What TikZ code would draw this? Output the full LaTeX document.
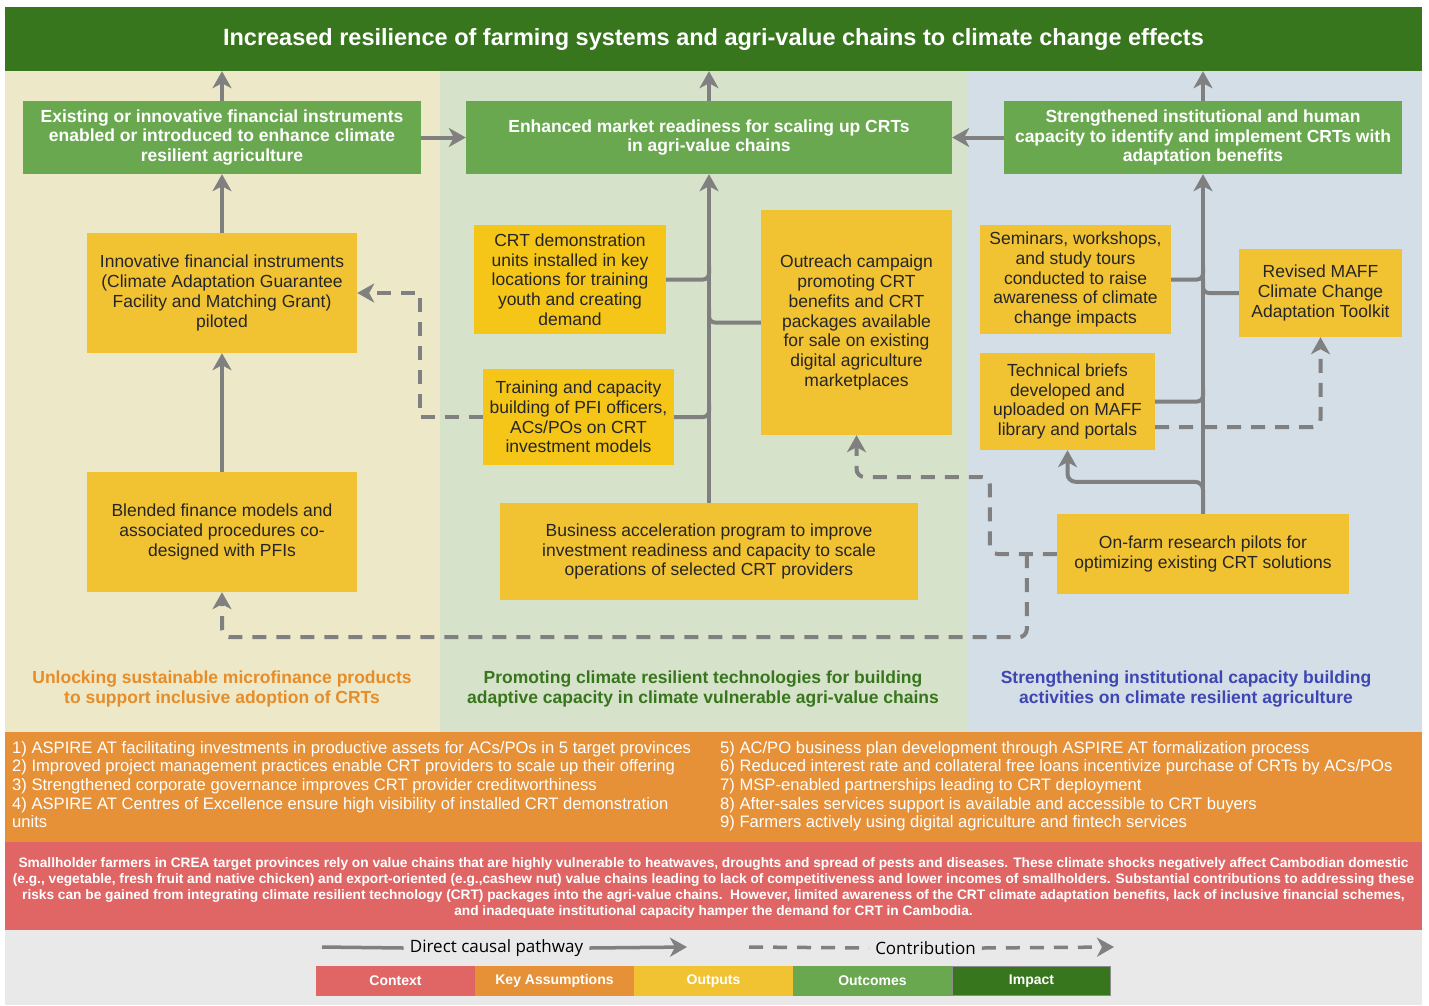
\documentclass[tikz,border=0pt]{standalone}
\usepackage{fontspec}
\setmainfont{Liberation Sans}
\newfontfamily\legendfont{Open Sans}
\usepackage{xcolor}
\usetikzlibrary{arrows.meta,calc}

\definecolor{impactgreen}{RGB}{56,118,29}
\definecolor{outcomegreen}{RGB}{106,168,79}
\definecolor{outputyellow}{RGB}{241,194,50}
\definecolor{outputgold}{RGB}{245,197,24}
\definecolor{assumporange}{RGB}{230,145,56}
\definecolor{contextred}{RGB}{224,102,102}
\definecolor{legendgray}{RGB}{233,233,233}
\definecolor{leftbg}{RGB}{237,233,200}
\definecolor{midbg}{RGB}{214,226,202}
\definecolor{rightbg}{RGB}{212,222,230}
\definecolor{linegray}{RGB}{128,128,128}
\definecolor{pillarorange}{RGB}{230,140,40}
\definecolor{pillarblue}{RGB}{62,70,180}

\begin{document}
\begin{tikzpicture}[x=1pt,y=-1pt,
  every node/.style={align=center,inner sep=0pt},
  outcome/.style={fill=outcomegreen,text=white,font=\bfseries\fontsize{17.5}{19.5}\selectfont},
  output/.style={fill=outputyellow,text=black!85,font=\fontsize{17.5}{19.7}\selectfont},
  pillar/.style={font=\bfseries\fontsize{17.5}{20}\selectfont},
  keybox/.style={minimum width=159,minimum height=30,text=white,font=\bfseries\fontsize{14}{16}\selectfont},
  link/.style={draw=linegray,line width=4pt},
  dashlink/.style={link,dash pattern=on 14pt off 10pt},
  causal/.style={link,-{Stealth[length=17pt,width=19pt,inset=5pt]}},
  contrib/.style={causal,dash pattern=on 14pt off 10pt}]
  \useasboundingbox (0,0) rectangle (1429,1005);
  \fill[white] (0,0) rectangle (1429,1005);
  % column backgrounds and bands
  \fill[leftbg] (5,71) rectangle (440,732);
  \fill[midbg] (440,71) rectangle (968,732);
  \fill[rightbg] (968,71) rectangle (1422,732);
  \fill[assumporange] (5,732) rectangle (1422,842);
  \fill[contextred] (5,842) rectangle (1422,930);
  \fill[legendgray] (5,930) rectangle (1422,1005);

  % impact
  \node[fill=impactgreen,text=white,minimum width=1417,minimum height=64,
        font=\bfseries\fontsize{23.5}{28}\selectfont] (impact) at (713.5,39)
    {Increased resilience of farming systems and agri-value chains to climate change effects};

  % outcomes
  \node[outcome,minimum width=398,minimum height=73] (outleft) at (222,137.5)
    {Existing or innovative financial instruments\\enabled or introduced to enhance climate\\resilient agriculture};
  \node[outcome,minimum width=486,minimum height=73] (outmid) at (709,137.5)
    {Enhanced market readiness for scaling up CRTs\\in agri-value chains};
  \node[outcome,minimum width=398,minimum height=73] (outright) at (1203,137.5)
    {Strengthened institutional and human\\capacity to identify and implement CRTs with\\adaptation benefits};

  % outputs, left pillar
  \node[output,minimum width=270,minimum height=120] (innov) at (222,293)
    {Innovative financial instruments\\(Climate Adaptation Guarantee\\Facility and Matching Grant)\\piloted};
  \node[output,minimum width=270,minimum height=120] (blended) at (222,532)
    {Blended finance models and\\associated procedures co-\\designed with PFIs};

  % outputs, middle pillar
  \node[output,fill=outputgold,minimum width=192,minimum height=109] (crtdemo) at (570,279.5)
    {CRT demonstration\\units installed in key\\locations for training\\youth and creating\\demand};
  \node[output,fill=outputgold,minimum width=191,minimum height=96] (training) at (578.5,417)
    {Training and capacity\\building of PFI officers,\\ACs/POs on CRT\\investment models};
  \node[output,minimum width=191,minimum height=225] (outreach) at (856.5,322.5)
    {Outreach campaign\\promoting CRT\\benefits and CRT\\packages available\\for sale on existing\\digital agriculture\\marketplaces};
  \node[output,minimum width=418,minimum height=97] (business) at (709,551.5)
    {Business acceleration program to improve\\investment readiness and capacity to scale\\operations of selected CRT providers};

  % outputs, right pillar
  \node[output,minimum width=191,minimum height=109] (seminars) at (1075.5,279.5)
    {Seminars, workshops,\\and study tours\\conducted to raise\\awareness of climate\\change impacts};
  \node[output,minimum width=175,minimum height=97] (techbrief) at (1067.5,401.5)
    {Technical briefs\\developed and\\uploaded on MAFF\\library and portals};
  \node[output,minimum width=163,minimum height=88] (maff) at (1320.5,293)
    {Revised MAFF\\Climate Change\\Adaptation Toolkit};
  \node[output,minimum width=292,minimum height=80] (onfarm) at (1203,554)
    {On-farm research pilots for\\optimizing existing CRT solutions};

  % pillar titles
  \node[pillar,text=pillarorange] (pillarleft) at (222,689)
    {Unlocking sustainable microfinance products\\to support inclusive adoption of CRTs};
  \node[pillar,text=impactgreen] (pillarmid) at (703,689)
    {Promoting climate resilient technologies for building\\adaptive capacity in climate vulnerable agri-value chains};
  \node[pillar,text=pillarblue] (pillarright) at (1186,689)
    {Strengthening institutional capacity building\\activities on climate resilient agriculture};

  % direct causal pathways
  \draw[causal] (outleft.north) -- (outleft.north |- impact.south);
  \draw[causal] (outmid.north) -- (outmid.north |- impact.south);
  \draw[causal] (outright.north) -- (outright.north |- impact.south);
  \draw[causal] (outleft.east) -- (outmid.west);
  \draw[causal] (outright.west) -- (outmid.east);
  \draw[causal] (innov.north) -- (outleft.south);
  \draw[causal] (blended.north) -- (innov.south);
  \draw[causal] (business.north) -- (outmid.south);
  \draw[link,rounded corners=6] (crtdemo.east) -| ([yshift=14pt]business.north |- crtdemo.east);
  \draw[link,rounded corners=6] (training.east) -| ([yshift=14pt]business.north |- training.east);
  \draw[link,rounded corners=6] (outreach.west) -| ([yshift=14pt]business.north |- outreach.west);
  \draw[causal] (onfarm.north) -- (outright.south);
  \draw[link,rounded corners=6] (seminars.east) -| ([yshift=14pt]onfarm.north |- seminars.east);
  \draw[link,rounded corners=6] (techbrief.east) -| ([yshift=14pt]onfarm.north |- techbrief.east);
  \draw[link,rounded corners=6] (maff.west) -| ([yshift=14pt]onfarm.north |- maff.west);
  \draw[causal,rounded corners=8] (onfarm.north) -- ++(0,-32) -| (techbrief.south);

  % contributions
  \draw[contrib] (training.west) -| ($(innov.east)+(63,0)$) -- (innov.east);
  \draw[contrib,rounded corners=8] ([yshift=-25.5pt]techbrief.east) -| (maff.south);
  \draw[contrib,rounded corners=8] (onfarm.west) -| ($(onfarm.west)+(-67,-77)$) -| (outreach.south);
  \draw[contrib,rounded corners=8] ([xshift=-30pt]onfarm.west) |- ($(blended.south)+(0,45)$) -- (blended.south);

  % key assumptions
  \node[anchor=north west,align=left,text=white,font=\fontsize{16.6}{18.6}\selectfont] (assumpleft) at (12,741)
    {1) ASPIRE AT facilitating investments in productive assets for ACs/POs in 5 target provinces\\
     2) Improved project management practices enable CRT providers to scale up their offering\\
     3) Strengthened corporate governance improves CRT provider creditworthiness\\
     4) ASPIRE AT Centres of Excellence ensure high visibility of installed CRT demonstration\\
     units};
  \node[anchor=north west,align=left,text=white,font=\fontsize{16.6}{18.6}\selectfont] (assumpright) at (720,741)
    {5) AC/PO business plan development through ASPIRE AT formalization process\\
     6) Reduced interest rate and collateral free loans incentivize purchase of CRTs by ACs/POs\\
     7) MSP-enabled partnerships leading to CRT deployment\\
     8) After-sales services support is available and accessible to CRT buyers\\
     9) Farmers actively using digital agriculture and fintech services};

  % context
  \node[text=white,font=\bfseries\fontsize{13.7}{15.8}\selectfont] (context) at (713.5,888)
    {Smallholder farmers in CREA target provinces rely on value chains that are highly vulnerable to heatwaves, droughts and spread of pests and diseases. These climate shocks negatively affect Cambodian domestic\\
     (e.g., vegetable, fresh fruit and native chicken) and export-oriented (e.g.,cashew nut) value chains leading to lack of competitiveness and lower incomes of smallholders. Substantial contributions to addressing these\\
     risks can be gained from integrating climate resilient technology (CRT) packages into the agri-value chains.\ \ However, limited awareness of the CRT climate adaptation benefits, lack of inclusive financial schemes,\\
     and inadequate institutional capacity hamper the demand for CRT in Cambodia.};

  % legend
  \coordinate (causalstart) at (322,947);
  \coordinate (causalend) at (687,947);
  \coordinate (contribstart) at (749,947);
  \coordinate (contribend) at (1114,947);
  \node[inner sep=6pt,font=\legendfont\fontsize{17}{20}\selectfont] (causaltext) at (496.5,948) {Direct causal pathway};
  \node[inner sep=6pt,font=\legendfont\fontsize{17}{20}\selectfont] (contribtext) at (925.5,948) {Contribution};
  \draw[link,line width=3.5pt] (causalstart) -- (causaltext.west);
  \draw[causal,line width=3.5pt] (causaltext.east) -- (causalend);
  \draw[dashlink,line width=3.5pt] (contribstart) -- (contribtext.west);
  \draw[contrib,line width=3.5pt] (contribtext.east) -- (contribend);
  \node[keybox,fill=contextred] (keycontext) at (395.5,981) {Context};
  \node[keybox,fill=assumporange] (keyassump) at (554.5,981) {Key Assumptions};
  \node[keybox,fill=outputyellow] (keyoutput) at (713.5,981) {Outputs};
  \node[keybox,fill=outcomegreen] (keyoutcome) at (872.5,981) {Outcomes};
  \node[keybox,fill=impactgreen,draw=black!45,line width=1.2pt,minimum width=157.8,minimum height=28.8] (keyimpact) at (1031.5,981) {Impact};
\end{tikzpicture}
\end{document}
